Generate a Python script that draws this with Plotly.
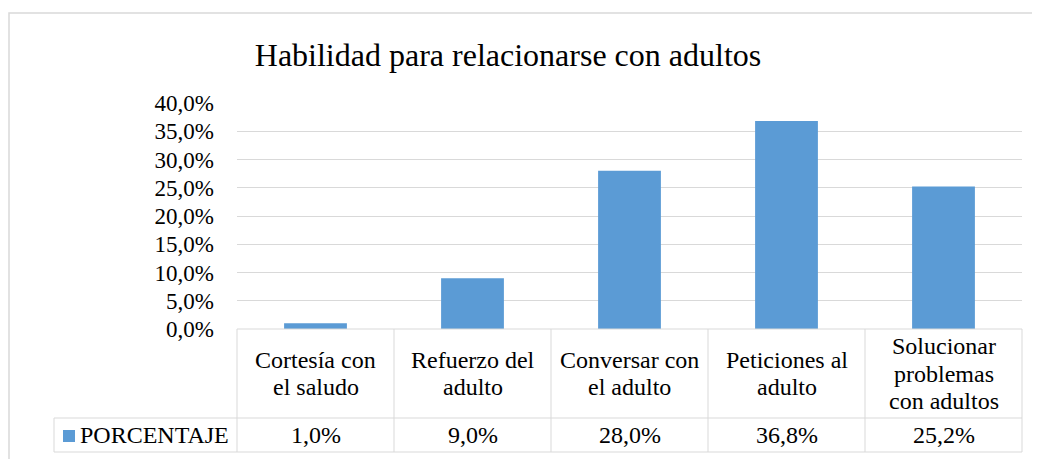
import plotly.graph_objects as go

categories = ["Cortesía con el saludo", "Refuerzo del adulto", "Conversar con el adulto",
              "Peticiones al adulto", "Solucionar problemas con adultos"]
category_labels = ["Cortesía con<br>el saludo", "Refuerzo del<br>adulto", "Conversar con<br>el adulto",
                   "Peticiones al<br>adulto", "Solucionar<br>problemas<br>con adultos"]
values = [1.0, 9.0, 28.0, 36.8, 25.2]
value_labels = ["1,0%", "9,0%", "28,0%", "36,8%", "25,2%"]
series_name = "PORCENTAJE"
title = "Habilidad para relacionarse con adultos"

W, H = 1040, 459
OFF = 8  # page body margin offset
L, R, T, B = 237 - OFF, 1022 - OFF, 103 - OFF, 329 - OFF  # plot area in figure px

def xp(px):
    return (px - OFF - L) / (R - L)

def yp(py):
    return (B - (py - OFF)) / (B - T)

FONT = "Liberation Serif, Times New Roman, serif"
GRID = "#d9d9d9"
BAR = "#5B9BD5"
FS = 23
FT = 24

fig = go.Figure()
fig.add_trace(go.Bar(x=categories, y=values, name=series_name, marker_color=BAR,
                     marker_line_width=0, showlegend=False))

shapes = []
line = dict(color=GRID, width=1)
# outer chart border
shapes.append(dict(type="rect", xref="paper", yref="paper", x0=xp(9), x1=xp(1060),
                   y0=yp(480), y1=yp(13), line=dict(color=GRID, width=1.5)))
# table horizontal lines
shapes.append(dict(type="line", xref="paper", yref="paper", x0=0, x1=1, y0=0, y1=0, line=line))
for py in (418, 452):
    shapes.append(dict(type="line", xref="paper", yref="paper", x0=xp(54), x1=1,
                       y0=yp(py), y1=yp(py), line=line))
# table vertical lines
n = len(categories)
for k in range(n + 1):
    shapes.append(dict(type="line", xref="paper", yref="paper", x0=k / n, x1=k / n,
                       y0=yp(329), y1=yp(452), line=line))
shapes.append(dict(type="line", xref="paper", yref="paper", x0=xp(54), x1=xp(54),
                   y0=yp(418), y1=yp(452), line=line))
# legend key square
shapes.append(dict(type="rect", xref="paper", yref="paper", x0=xp(63), x1=xp(75),
                   y0=yp(442), y1=yp(430), fillcolor=BAR, line=dict(width=0)))

annotations = []
LH = 27.5
for c, lab, v in zip(categories, category_labels, value_labels):
    parts = lab.split("<br>")
    start = 373.5 - LH * (len(parts) - 1) / 2
    for i, p in enumerate(parts):
        annotations.append(dict(x=c, xref="x", y=yp(start + i * LH), yref="paper", text=p,
                                showarrow=False, yanchor="middle", xanchor="center",
                                font=dict(family=FONT, size=FT, color="#000000")))
    annotations.append(dict(x=c, xref="x", y=yp(435), yref="paper", text=v,
                            showarrow=False, yanchor="middle", xanchor="center",
                            font=dict(family=FONT, size=FT, color="#000000")))
annotations.append(dict(x=xp(78), xref="paper", y=yp(435), yref="paper", text=series_name,
                        showarrow=False, yanchor="middle", xanchor="left",
                        font=dict(family=FONT, size=FT, color="#000000")))

fig.update_layout(
    width=W, height=H,
    margin=dict(l=L, r=W - R, t=T, b=H - B),
    paper_bgcolor="white", plot_bgcolor="white",
    separators=",.",
    title=dict(text=title, x=(508 - OFF) / W, xanchor="center", y=1 - (55 - OFF) / H,
               yanchor="middle", font=dict(family=FONT, size=32, color="#000000")),
    bargap=0.6,
    xaxis=dict(showticklabels=False, showgrid=False, zeroline=False, showline=False,
               range=[-0.5, n - 0.5], fixedrange=True),
    yaxis=dict(range=[0, 40], dtick=5, tickformat=".1f", ticksuffix="%",
               showgrid=True, gridcolor=GRID, gridwidth=1, zeroline=False, showline=False,
               ticks="", ticklabelstandoff=22,
               tickfont=dict(family=FONT, size=FS, color="#000000")),
    shapes=shapes, annotations=annotations,
)

fig.write_html("out.html")
